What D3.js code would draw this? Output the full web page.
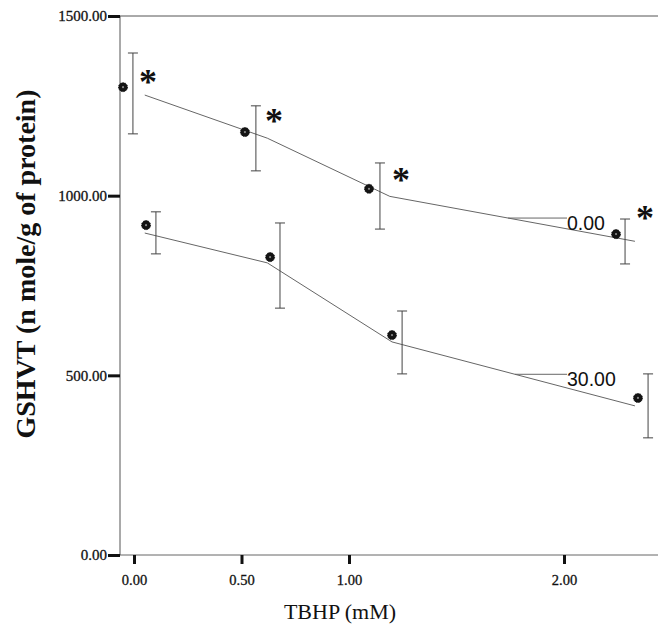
<!DOCTYPE html>
<html lang="en">
<head>
    <meta charset="UTF-8">
    <title>GSHVT vs TBHP</title>
    <script src="https://d3js.org/d3.v7.min.js"></script>
    <style>
        body {
            margin: 0;
            padding: 0;
            background: #fff;
        }
        svg text {
            font-family: "Liberation Serif", "Times New Roman", serif;
            fill: #111;
        }
        svg text.sans {
            font-family: "Liberation Sans", Arial, sans-serif;
        }
    </style>
</head>
<body>
    <svg id="chart"></svg>

    <script>
        // Axis ticks
        const xTicks = [0, 0.5, 1, 2];
        const yTicks = [0, 500, 1000, 1500];

        // Series "0.00": mean line, SD bars, plotted points, significance marks
        const s0Name = "0.00";
        const s0LineX = [0.05, 0.62, 1.19, 2.33];
        const s0Mean = [1280, 1160, 998, 873];
        const s0BarX = [-0.005, 0.567, 1.144, 2.284];
        const s0Low = [1172, 1069, 907, 810];
        const s0High = [1397, 1250, 1091, 935];
        const s0PointX = [-0.051, 0.516, 1.093, 2.242];
        const s0PointY = [1302, 1177, 1019, 893];
        const s0StarX = [0.065, 0.651, 1.242, 2.377];
        const s0StarY = [1330, 1222, 1058, 952];

        // Series "30.00"
        const s30Name = "30.00";
        const s30LineX = [0.05, 0.62, 1.2, 2.33];
        const s30Mean = [896, 813, 593, 415];
        const s30BarX = [0.102, 0.679, 1.247, 2.391];
        const s30Low = [838, 687, 504, 326];
        const s30High = [955, 924, 679, 504];
        const s30PointX = [0.056, 0.633, 1.2, 2.344];
        const s30PointY = [918, 829, 612, 437];

        // Series labels: leader starts on the line, text after it
        const labelLeaderX = [1.74, 1.772];
        const labelTextX = [2.014, 2.014];
        const labelTextY = [905, 470];

        const W = 658, H = 627;
        const svg = d3.select("#chart").attr("width", W).attr("height", H);

        const x = d3.scaleLinear().domain([0, 2]).range([134, 564]);
        const y = d3.scaleLinear().domain([0, 1500]).range([555, 16]);
        const axisLeftX = 120;

        // frame lines
        svg.append("line")
            .attr("x1", axisLeftX).attr("x2", W)
            .attr("y1", y(1500)).attr("y2", y(1500))
            .attr("stroke", "#555").attr("stroke-width", 1);
        svg.append("line")
            .attr("x1", axisLeftX).attr("x2", W)
            .attr("y1", y(0)).attr("y2", y(0))
            .attr("stroke", "#666").attr("stroke-width", 1);
        svg.append("line")
            .attr("x1", axisLeftX).attr("x2", axisLeftX)
            .attr("y1", y(1500)).attr("y2", y(0))
            .attr("stroke", "#555").attr("stroke-width", 1);

        // Y axis
        const yAxis = svg.append("g")
            .attr("transform", `translate(${axisLeftX},0)`)
            .call(d3.axisLeft(y).tickValues(yTicks).tickFormat(d3.format(".2f")).tickSize(12).tickPadding(1));
        yAxis.attr("font-family", null);
        yAxis.select(".domain").remove();
        yAxis.selectAll(".tick line").attr("stroke", "#111").attr("stroke-width", 3);
        yAxis.selectAll(".tick text").attr("font-size", 15)
            .attr("stroke", "#111").attr("stroke-width", 0.3);

        // X axis
        const xAxis = svg.append("g")
            .attr("transform", `translate(0,${y(0)})`)
            .call(d3.axisBottom(x).tickValues(xTicks).tickFormat(d3.format(".2f")).tickSize(9).tickPadding(11));
        xAxis.attr("font-family", null);
        xAxis.select(".domain").remove();
        xAxis.selectAll(".tick line").attr("stroke", "#111").attr("stroke-width", 3);
        xAxis.selectAll(".tick text").attr("font-size", 14.5)
            .attr("stroke", "#111").attr("stroke-width", 0.3);

        // Axis titles
        svg.append("text")
            .attr("x", 340).attr("y", 619)
            .attr("text-anchor", "middle")
            .attr("font-size", 22)
            .text("TBHP (mM)");

        svg.append("text")
            .attr("transform", "translate(35,264) rotate(-90)")
            .attr("text-anchor", "middle")
            .attr("font-weight", "bold")
            .attr("font-size", 28)
            .text("GSHVT (n mole/g of protein)");

        function drawSeries(lineX, mean, barX, low, high, ptX, ptY) {
            const g = svg.append("g");
            const line = d3.line().x(d => x(d[0])).y(d => y(d[1]));
            g.append("path")
                .datum(d3.zip(lineX, mean))
                .attr("d", line)
                .attr("fill", "none")
                .attr("stroke", "#666")
                .attr("stroke-width", 1);

            const bars = d3.zip(barX, low, high);
            g.selectAll(".bar").data(bars).enter().append("line")
                .attr("x1", d => x(d[0])).attr("x2", d => x(d[0]))
                .attr("y1", d => y(d[1])).attr("y2", d => y(d[2]))
                .attr("stroke", "#444").attr("stroke-width", 1);
            [1, 2].forEach(k => {
                g.selectAll(".cap" + k).data(bars).enter().append("line")
                    .attr("x1", d => x(d[0]) - 5).attr("x2", d => x(d[0]) + 5)
                    .attr("y1", d => y(d[k])).attr("y2", d => y(d[k]))
                    .attr("stroke", "#444").attr("stroke-width", 1);
            });

            const pts = d3.zip(ptX, ptY);
            g.selectAll(".pt").data(pts).enter().append("path")
                .attr("transform", d => `translate(${x(d[0])},${y(d[1])})`)
                .attr("d", d3.symbol(d3.symbolCircle, 64))
                .attr("fill", "#141414")
                .attr("stroke", "#000")
                .attr("stroke-width", 0.8)
                .attr("stroke-dasharray", "1.5,1");
            g.selectAll(".ptc").data(pts).enter().append("circle")
                .attr("cx", d => x(d[0])).attr("cy", d => y(d[1]))
                .attr("r", 1.1)
                .attr("fill", "#888");
        }

        drawSeries(s0LineX, s0Mean, s0BarX, s0Low, s0High, s0PointX, s0PointY);
        drawSeries(s30LineX, s30Mean, s30BarX, s30Low, s30High, s30PointX, s30PointY);

        // Significance asterisks
        svg.selectAll(".star").data(d3.zip(s0StarX, s0StarY)).enter().append("text")
            .attr("x", d => x(d[0]))
            .attr("y", d => y(d[1]) + 17)
            .attr("text-anchor", "middle")
            .attr("font-weight", "bold")
            .attr("font-size", 36)
            .text("*");

        // Series labels with leaders
        const names = [s0Name, s30Name];
        const lineFns = [
            d3.scaleLinear().domain(s0LineX).range(s0Mean),
            d3.scaleLinear().domain(s30LineX).range(s30Mean)
        ];
        names.forEach((name, i) => {
            const ly = y(lineFns[i](labelLeaderX[i]));
            svg.append("line")
                .attr("x1", x(labelLeaderX[i])).attr("x2", x(labelTextX[i]))
                .attr("y1", ly).attr("y2", ly)
                .attr("stroke", "#666").attr("stroke-width", 1);
            svg.append("text")
                .attr("class", "sans")
                .attr("x", x(labelTextX[i]))
                .attr("y", y(labelTextY[i]))
                .attr("font-size", 19.5)
                .text(name);
        });
    </script>
</body>
</html>
